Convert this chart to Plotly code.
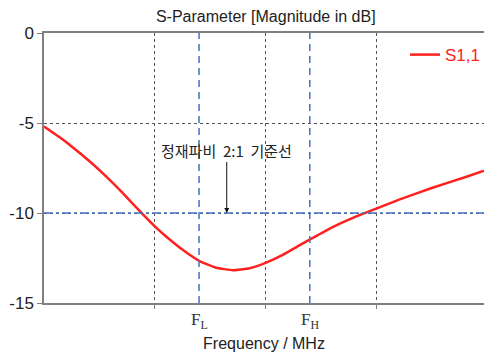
import plotly.graph_objects as go

# Return-loss curve of the antenna (S1,1 magnitude in dB)
freq_mhz = [800, 814.4, 826.4, 841.4, 856.5, 871.4, 886.5, 901.5, 910.5, 925.5,
            940.5, 955.6, 970.5, 985.6, 1000.6, 1015.6, 1030.6, 1045.7, 1060.6,
            1075.7, 1090.7, 1105.7, 1120.7, 1150.8, 1180.8, 1197.3]
s11_db = [-5.2, -5.81, -6.37, -7.14, -7.99, -8.91, -9.9, -10.83, -11.32, -12.06,
          -12.67, -13.04, -13.18, -13.07, -12.76, -12.33, -11.8, -11.28, -10.78,
          -10.35, -9.98, -9.62, -9.26, -8.6, -8.0, -7.65]

band_edges = [940, 1040]          # F_L, F_H
band_labels = ["F<sub>L</sub>", "F<sub>H</sub>"]
vswr_ref_db = -10                 # VSWR 2:1 reference level
grid_freqs = [900, 1000, 1100]
y_ticks = [0, -5, -10, -15]
x_range = [800, 1197.3]

blue = "#4472C4"
grey = "#808080"
sans = "Liberation Sans, Arial, sans-serif"
serif = "Liberation Serif, DejaVu Serif, serif"

fig = go.Figure()
fig.add_trace(go.Scatter(
    x=freq_mhz, y=s11_db, mode="lines", name="S1,1",
    line=dict(color="#FF2020", width=2.5, shape="spline", smoothing=0.3),
))

# band edge markers
for f in band_edges:
    fig.add_shape(type="line", xref="x", yref="y", x0=f, x1=f, y0=-15, y1=0,
                  line=dict(color=blue, width=1.5, dash="7px,5px"))
for f, lab in zip(band_edges, band_labels):
    fig.add_annotation(x=f, y=-0.065, xref="x", yref="paper", text=lab,
                       showarrow=False, yanchor="middle",
                       font=dict(family=serif, size=17, color="#333333"))

# reference level line
fig.add_shape(type="line", xref="paper", yref="y", x0=0, x1=1,
              y0=vswr_ref_db, y1=vswr_ref_db,
              line=dict(color=blue, width=1.5, dash="dashdot"))

# label of the reference line, with an arrow pointing down to it
fig.add_annotation(x=965, y=vswr_ref_db, xref="x", yref="y",
                   ax=965, ay=-6.5, axref="x", ayref="y",
                   text="정재파비  2:1  기준선",
                   font=dict(family="Noto Sans CJK KR", size=15, color="#222222"),
                   showarrow=True, arrowhead=2, arrowsize=1, arrowwidth=1,
                   arrowcolor="#111111")

fig.update_layout(
    width=485, height=356,
    margin=dict(l=44, r=0, t=33, b=53),
    paper_bgcolor="white", plot_bgcolor="white",
    title=dict(text="S-Parameter [Magnitude in dB]", x=0.548, xanchor="center",
               y=0.955, yanchor="middle",
               font=dict(family=sans, size=16, color="#222222")),
    showlegend=True,
    legend=dict(x=0.82, y=0.985, xanchor="left", yanchor="top",
                bgcolor="rgba(0,0,0,0)", font=dict(family=sans, size=17, color="#FF2020")),
    xaxis=dict(range=x_range, tickvals=grid_freqs, showticklabels=False,
               ticks="outside", ticklen=4, tickcolor=grey,
               showgrid=True, gridcolor="#555555", griddash="dot", gridwidth=1,
               showline=True, linecolor=grey, linewidth=1.5, mirror=True,
               zeroline=False,
               title=dict(text="Frequency / MHz", standoff=30,
                          font=dict(family=sans, size=16, color="#222222"))),
    yaxis=dict(range=[-15, 0], tickvals=y_ticks, ticktext=[str(v) for v in y_ticks],
               ticks="outside", ticklen=5, tickcolor=grey,
               showgrid=True, gridcolor="#555555", griddash="dot", gridwidth=1,
               showline=True, linecolor=grey, linewidth=1.5, zeroline=False,
               tickfont=dict(family=sans, size=17, color="#222222")),
)

fig.write_html("out.html")
